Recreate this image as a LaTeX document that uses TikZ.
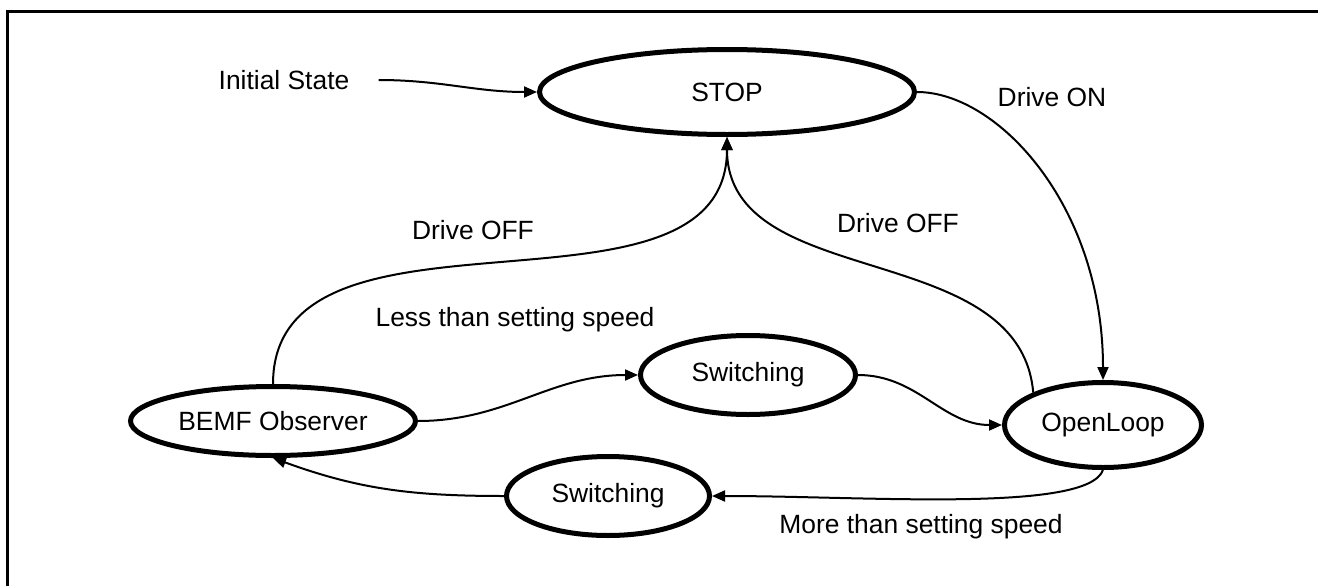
\documentclass[tikz,border=0pt]{standalone}
\usepackage{fontspec}
\setmainfont{Liberation Sans}
\usetikzlibrary{shapes.geometric,arrows.meta}

\begin{document}
\begin{tikzpicture}[x=0.5pt,y=0.5pt,>={Triangle[length=6.5pt,width=5.5pt]},
    font=\fontsize{13.2}{16}\selectfont]
    \tikzstyle{state}=[draw, ellipse, line width=2.5pt, inner sep=0pt]
    \tikzstyle{lbl}=[inner sep=0pt]
    \tikzstyle{link}=[->, line width=1pt]

    \useasboundingbox (0,0) rectangle (1318,586);
    \draw[line width=1.5pt] (7.5,0) -- (7.5,575) -- (1318,575);

    \node[state, minimum width=187.5pt, minimum height=42.5pt] (stop) at (727,494) {STOP};
    \node[state, minimum width=142.5pt, minimum height=34.5pt] (bemf) at (273,165) {BEMF Observer};
    \node[state, minimum width=107.5pt, minimum height=39.5pt] (swA) at (748,211) {Switching};
    \node[state, minimum width=101.5pt, minimum height=39.5pt] (swB) at (608,90) {Switching};
    \node[state, minimum width=98.5pt, minimum height=42.5pt] (openloop) at (1103,161) {OpenLoop};

    \node[lbl, inner xsep=14.5pt] (init) at (284,506) {Initial State};
    \node[lbl] (on) at (1052,489) {Drive ON};
    \node[lbl] (offR) at (898,363) {Drive OFF};
    \node[lbl] (offL) at (473,356) {Drive OFF};
    \node[lbl] (less) at (515,266) {Less than setting speed};
    \node[lbl] (more) at (921,59) {More than setting speed};

    \draw[link] (init) to[out=0,in=180] (stop.west);
    \draw[link] (stop.east) to[out=0,in=90,out looseness=0.6,in looseness=1.3] (openloop.north);
    \draw[link] (openloop.155) to[out=95,in=-90] (stop.south);
    \draw[link] (bemf.north) to[out=90,in=-90] (stop.south);
    \draw[link] (bemf.east) to[out=0,in=180] (swA.west);
    \draw[link] (swA.east) to[out=0,in=180] (openloop.west);
    \draw[link] (openloop.south) to[out=-110,in=0,out looseness=0.3] (swB.east);
    \draw[link] (swB.west) to[out=180,in=-20] (bemf.south);
  \end{tikzpicture}
\end{document}
